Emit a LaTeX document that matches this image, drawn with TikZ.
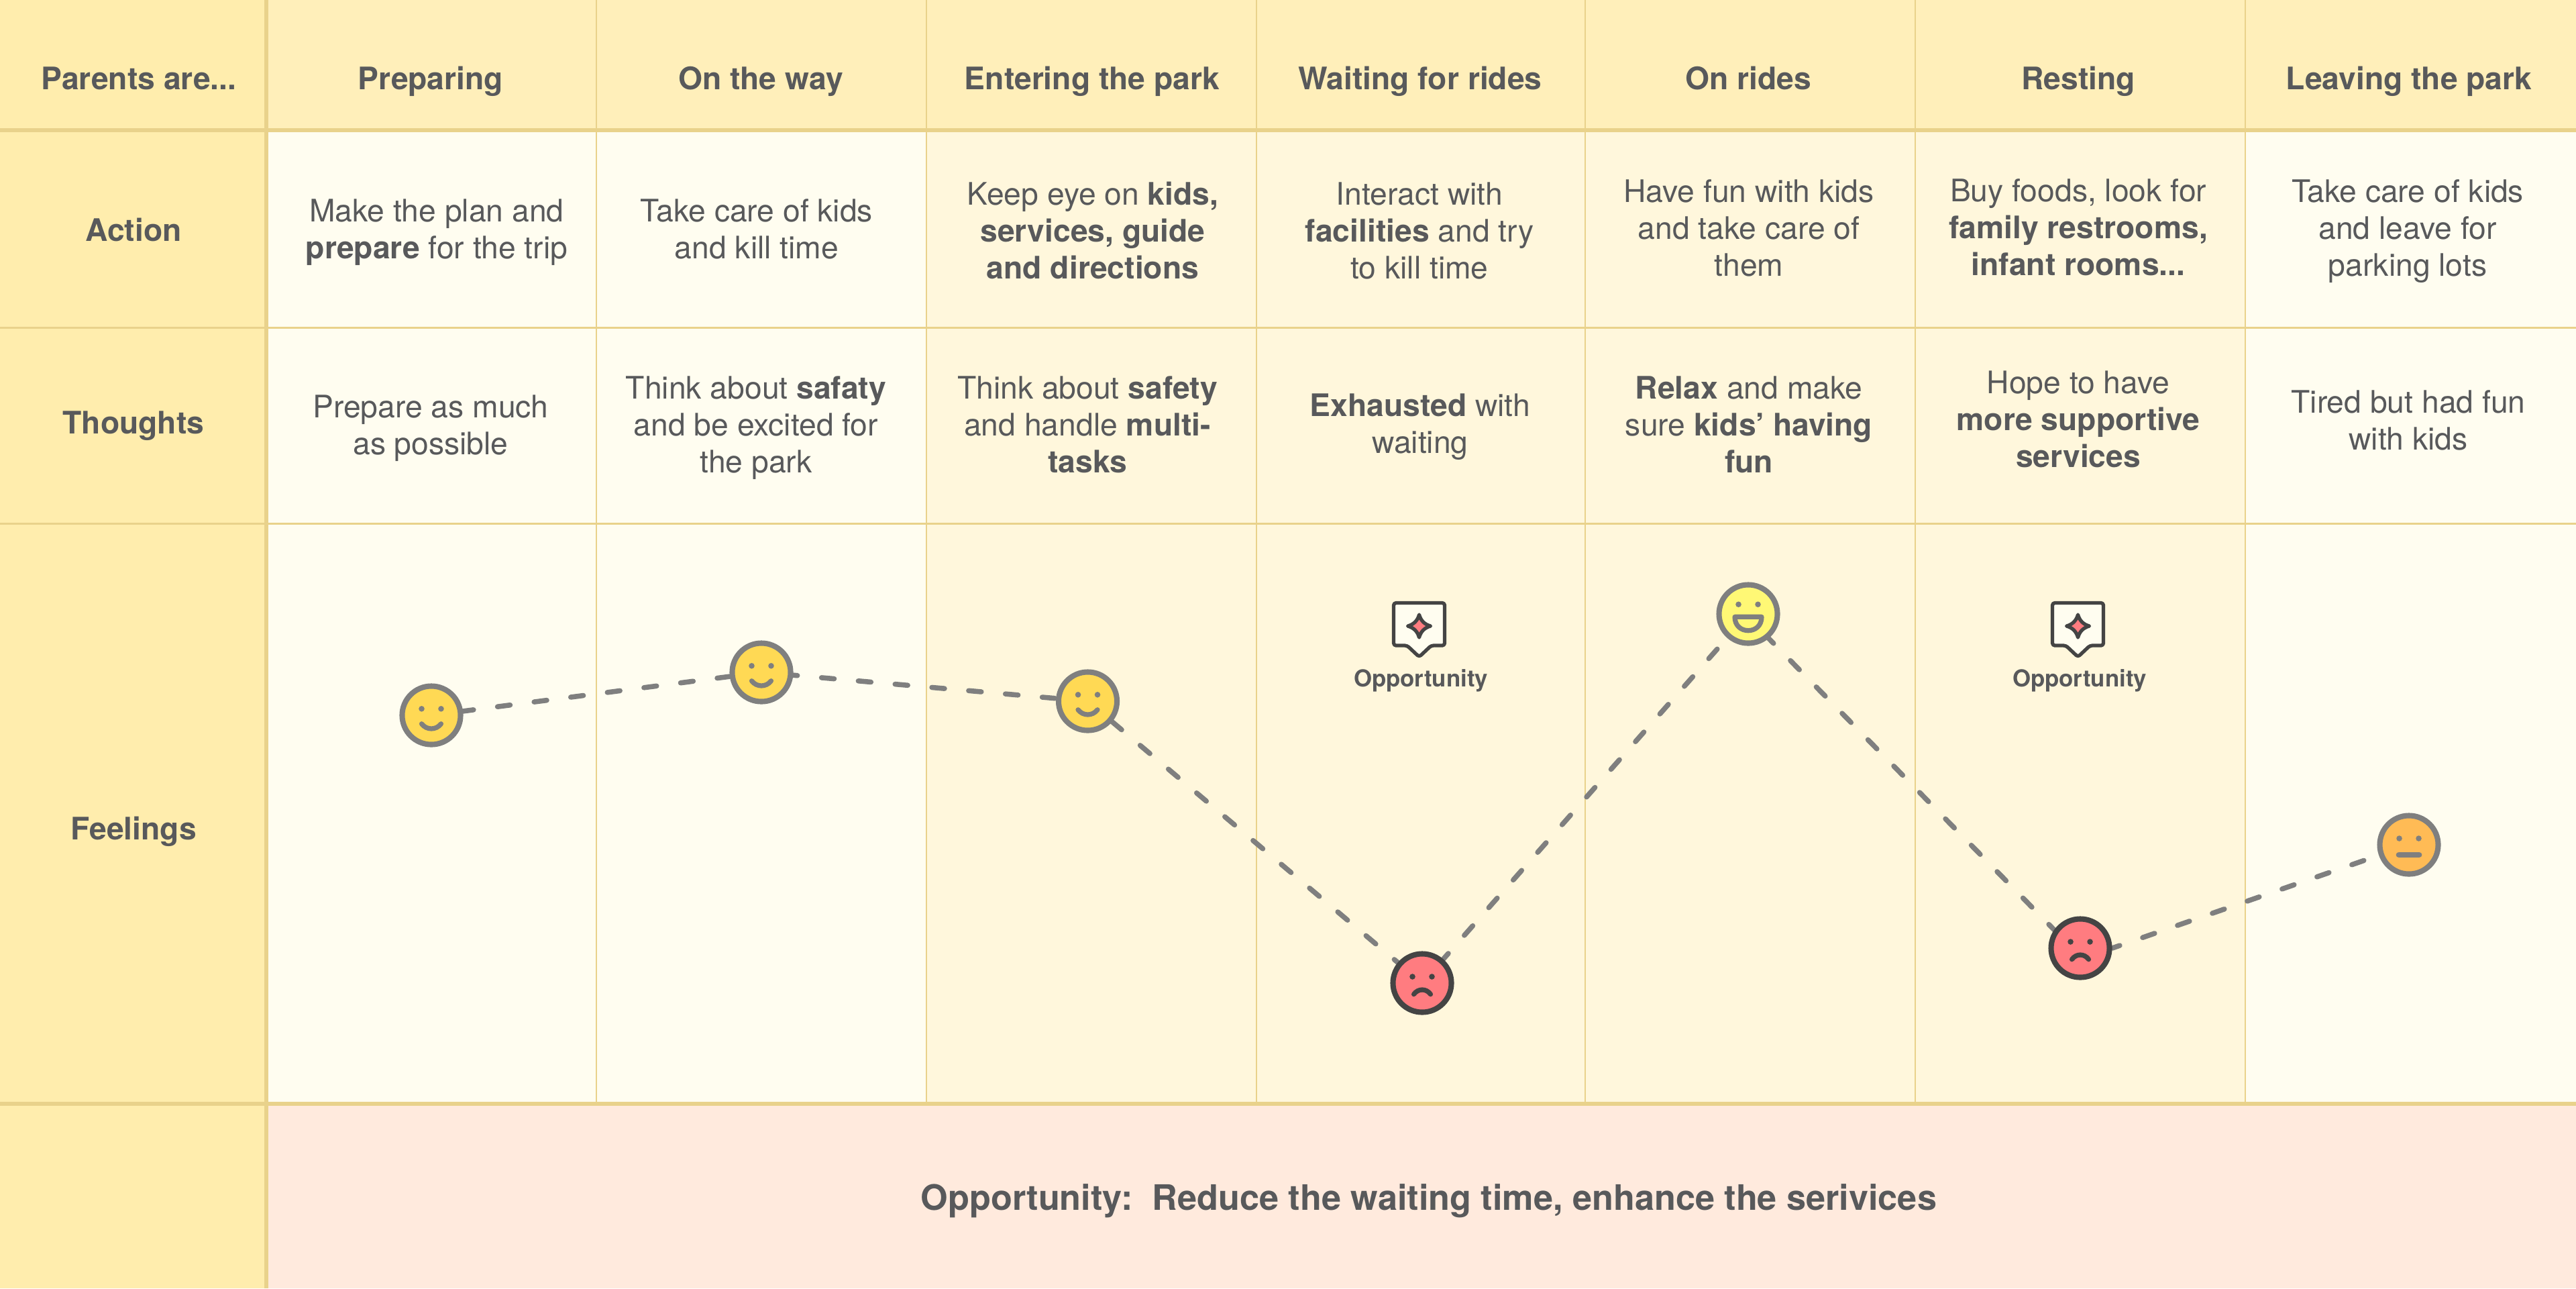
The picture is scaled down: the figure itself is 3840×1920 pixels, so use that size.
\documentclass[tikz,border=0pt]{standalone}
\usepackage{fontspec}
\setmainfont{TeX Gyre Heros}
\usetikzlibrary{backgrounds}
\definecolor{sidefill}{HTML}{FFEDAD}
\definecolor{headfill}{HTML}{FFEFBA}
\definecolor{palefill}{HTML}{FFFDF0}
\definecolor{warmfill}{HTML}{FFF7DC}
\definecolor{rosefill}{HTML}{FFEADD}
\definecolor{gridline}{HTML}{E9D28B}
\definecolor{inkgrey}{HTML}{58595B}
\definecolor{ringgrey}{HTML}{7F7F7F}
\definecolor{ringdark}{HTML}{444444}
\definecolor{faceyellow}{HTML}{FFD954}
\definecolor{facelemon}{HTML}{FFF875}
\definecolor{facered}{HTML}{FF7C80}
\definecolor{faceorange}{HTML}{FFBB55}
\tikzset
{
    textnode/.style = {align=center, text=inkgrey, inner sep=0pt, font=\fontsize{13.15}{15.65}\selectfont, execute at begin node=\strut, execute at end node=\strut},
    headnode/.style = {textnode, font=\fontsize{13.15}{15.65}\selectfont\bfseries},
    facenode/.style = {circle, draw=ringgrey, line width=2.3pt, minimum size=0.87cm, inner sep=0pt},
    darkface/.style = {facenode, draw=ringdark},
    trail/.style    = {draw=ringgrey, line width=2.15pt, line cap=round, dash pattern=on 5.4pt off 10.25pt},
    smallnode/.style = {textnode, font=\fontsize{9.9}{11.8}\selectfont\bfseries},
    sumnode/.style  = {textnode, font=\fontsize{14.85}{17}\selectfont\bfseries}
}
% face parts, around a named face
\newcommand{\faceeyes}[3]{\fill[#3] (-14.5,#2) circle (4.3) (14.5,#2) circle (4.3);}
\newcommand{\facesmile}[2]{\begin{scope}[shift={(#1)}]
    \faceeyes{#1}{-9.7}{#2}
    \draw[#2, line width=2.05pt, line cap=round] (-14.5,12.7) .. controls (-7,22.4) and (7,22.4) .. (14.5,12.7);
\end{scope}}
\newcommand{\facefrown}[2]{\begin{scope}[shift={(#1)}]
    \faceeyes{#1}{-9.5}{#2}
    \draw[#2, line width=2.05pt, line cap=round] (-12.5,16.7) .. controls (-6,7.8) and (6,7.8) .. (12.5,16.7);
\end{scope}}
\newcommand{\facegrin}[2]{\begin{scope}[shift={(#1)}]
    \faceeyes{#1}{-14.3}{#2}
    \draw[#2, line width=2.05pt, line join=round] (-20,4.3) -- (20,4.3) .. controls (20,18) and (10,24.7) .. (0,24.7) .. controls (-10,24.7) and (-20,18) .. (-20,4.3) -- cycle;
\end{scope}}
\newcommand{\faceflat}[2]{\begin{scope}[shift={(#1)}]
    \faceeyes{#1}{-9.5}{#2}
    \draw[#2, line width=2.5pt, line cap=round] (-15,15) -- (15,15);
\end{scope}}
% speech mark with a star
\newcommand{\sparkmark}[2]{\begin{scope}[shift={(#1,#2)}]
    \draw[ringdark, fill=palefill, line width=1.5pt, line join=round, rounded corners=1pt] (-38,-34.5) -- (38,-34.5) -- (38,29) -- (18,29) -- (0,46) -- (-18,29) -- (-38,29) -- cycle;
    \draw[ringdark, fill=facered, line width=1.5pt, line join=round] (0,-17) .. controls (2.5,-8) and (8,-2.5) .. (17,0) .. controls (8,2.5) and (2.5,8) .. (0,17) .. controls (-2.5,8) and (-8,2.5) .. (-17,0) .. controls (-8,-2.5) and (-2.5,-8) .. (0,-17) -- cycle;
\end{scope}}

\begin{document}
\begin{tikzpicture}[x=0.01cm, y=-0.01cm]
\useasboundingbox (0,0) rectangle (3840,1920);

%% faces
\node (f1) [facenode, fill=faceyellow] at (643,1066)  {};
\node (f2) [facenode, fill=faceyellow] at (1135,1002) {};
\node (f3) [facenode, fill=faceyellow] at (1621.5,1045) {};
\node (f4) [darkface, fill=facered]    at (2120,1465) {};
\node (f5) [facenode, fill=facelemon]  at (2606,915)  {};
\node (f6) [darkface, fill=facered]    at (3101,1413) {};
\node (f7) [facenode, fill=faceorange] at (3591,1259) {};
\facesmile{f1}{ringgrey}
\facesmile{f2}{ringgrey}
\facesmile{f3}{ringgrey}
\facefrown{f4}{ringdark}
\facegrin{f5}{ringgrey}
\facefrown{f6}{ringdark}
\faceflat{f7}{ringgrey}

\begin{scope}[on background layer]
%% cells
\fill[palefill] (397,194) rectangle (3840,1645);
\fill[warmfill] (1381,194) rectangle (3347,1645);
\fill[headfill] (397,0) rectangle (3840,194);
\fill[sidefill] (0,0) rectangle (397,1920);
\fill[rosefill] (397,1645) rectangle (3840,1920);
%% grid
\foreach \xline in {889,1381,1873,2363,2855,3347}
    \draw[gridline, line width=0.8pt] (\xline,0) -- (\xline,1645);
\foreach \yline in {488,780}
    \draw[gridline, line width=0.85pt] (0,\yline) -- (3840,\yline);
\foreach \yline in {194,1645}
    \draw[gridline, line width=1.7pt] (0,\yline) -- (3840,\yline);
\draw[gridline, line width=1.55pt] (397,0) -- (397,1920);

%% feelings line
\path
(f1) edge[trail, dash phase=0.9pt]  (f2)
(f2) edge[trail, dash phase=3.6pt]  (f3)
(f3) edge[trail, dash phase=0.15pt] (f4)
(f4) edge[trail, dash phase=2.2pt]  (f5)
(f5.-50) edge[trail, dash phase=2.5pt] (f6.145)
(f6.east) edge[trail, dash phase=2pt]  (f7);
\end{scope}

%% header row
\node (parents)  [headnode] at (207,122.5)  {Parents are...};
\node (preparing)[headnode] at (642,122.5)  {Preparing};
\node (way)      [headnode] at (1134,122.5) {On the way};
\node (entering) [headnode] at (1628,122.5) {Entering the park};
\node (waiting)  [headnode] at (2117,122.5) {Waiting for rides};
\node (rides)    [headnode] at (2606,122.5) {On rides};
\node (resting)  [headnode] at (3098,122.5) {Resting};
\node (leaving)  [headnode] at (3591,122.5) {Leaving the park};

%% row names
\node (action)   [headnode] at (199,348)  {Action};
\node (thoughts) [headnode] at (199,635)  {Thoughts};
\node (feelings) [headnode] at (199,1240) {Feelings};

%% action row
\node (a1) [textnode] at (651,349.5) {Make the plan and \\ \textbf{prepare} for the trip};
\node (a2) [textnode] at (1128,349.5) {Take care of kids \\ and kill time};
\node (a3) [textnode] at (1629,351.5) {Keep eye on \textbf{kids,} \\ \textbf{services, guide} \\ \textbf{and directions}};
\node (a4) [textnode] at (2116,351.5) {Interact with \\ \textbf{facilities} and try \\ to kill time};
\node (a5) [textnode] at (2607,347.5) {Have fun with kids \\ and take care of \\ them};
\node (a6) [textnode] at (3098,346.5) {Buy foods, look for \\ \textbf{family restrooms,} \\ \textbf{infant rooms...}};
\node (a7) [textnode] at (3589,347.5) {Take care of kids \\ and leave for \\ parking lots};

%% thoughts row
\node (t1) [textnode] at (642,641.5) {Prepare as much \\ as possible};
\node (t2) [textnode] at (1127,640.5) {Think about \textbf{safaty} \\ and be excited for \\ the park};
\node (t3) [textnode] at (1621,640.5) {Think about \textbf{safety} \\ and handle \textbf{multi-} \\ \textbf{tasks}};
\node (t4) [textnode] at (2117,639.5) {\textbf{Exhausted} with \\ waiting};
\node (t5) [textnode] at (2607,640.5) {\textbf{Relax} and make \\ sure \textbf{kids’ having} \\ \textbf{fun}};
\node (t6) [textnode] at (3098,632.5) {Hope to have \\ \textbf{more supportive} \\ \textbf{services}};
\node (t7) [textnode] at (3590,634.5) {Tired but had fun \\ with kids};

%% opportunities
\sparkmark{2115.5}{933}
\sparkmark{3097.5}{933}
\node (op1) [smallnode] at (2118,1015) {Opportunity};
\node (op2) [smallnode] at (3100,1015) {Opportunity};

\node (summary) [sumnode] at (2130,1792) {Opportunity:\ \ Reduce the waiting time, enhance the serivices};
\end{tikzpicture}
\end{document}
